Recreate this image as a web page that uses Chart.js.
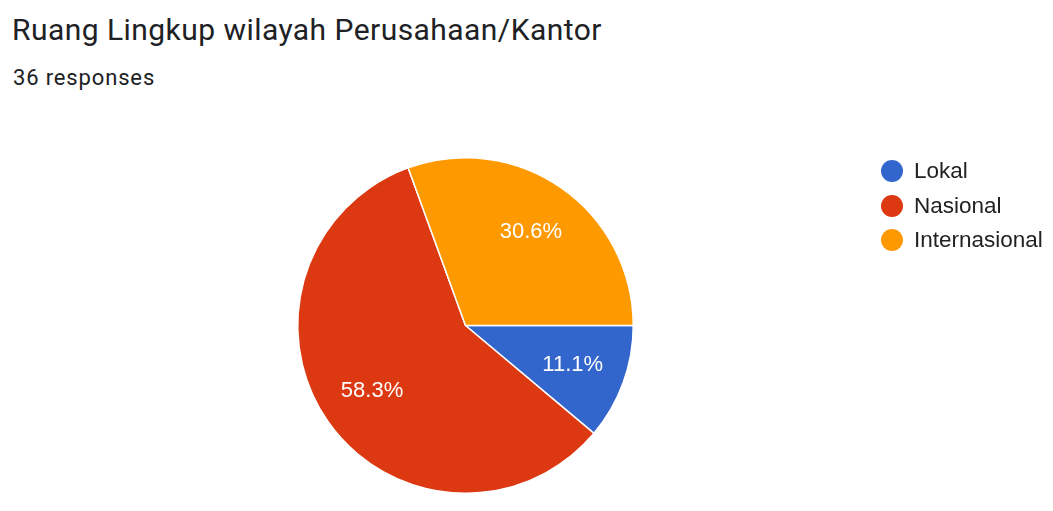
<!DOCTYPE html>
<html>
<head>
<meta charset="utf-8">
<script src="https://cdn.jsdelivr.net/npm/chart.js@4"></script>
<style>
  html, body { margin: 0; padding: 0; background: #fff; }
  body { width: 1053px; height: 511px; position: relative; overflow: hidden; }
  .title { position: absolute; left: 12px; top: 15px; line-height: 1; font-family: Roboto, sans-serif; font-size: 30px; letter-spacing: 0.45px; color: #202124; white-space: nowrap; }
  .sub { position: absolute; left: 13px; top: 67px; line-height: 1; font-family: Roboto, sans-serif; font-size: 22px; letter-spacing: 0.85px; color: #202124; }
  #chart-wrap { position: absolute; left: 0; top: 0; width: 1053px; height: 511px; }
  #legend { position: absolute; left: 881px; top: 154px; font-family: "Liberation Sans", Arial, sans-serif; font-size: 22.5px; color: #222; }
  .item { height: 34.5px; display: flex; align-items: center; }
  .dot { width: 22px; height: 22px; border-radius: 50%; margin-right: 11px; }
</style>
</head>
<body>
<div class="title">Ruang Lingkup wilayah Perusahaan/Kantor</div>
<div class="sub">36 responses</div>
<div id="chart-wrap"><canvas id="pie"></canvas></div>
<div id="legend"></div>
<script>
const labels = ['Lokal', 'Nasional', 'Internasional'];
const counts = [4, 21, 11];
const colors = ['#3366cc', '#dc3912', '#ff9900'];

const total = counts.reduce((a, b) => a + b, 0);

// percentage labels inside each slice (Google Forms style)
const sliceLabels = {
    id: 'sliceLabels',
    afterDatasetsDraw(chart) {
        const ctx = chart.ctx;
        const meta = chart.getDatasetMeta(0);
        ctx.save();
        ctx.fillStyle = '#ffffff';
        ctx.font = '22px "Liberation Sans", Arial, sans-serif';
        ctx.textAlign = 'center';
        ctx.textBaseline = 'middle';
        meta.data.forEach((arc, i) => {
            const p = arc.getProps(['x', 'y', 'startAngle', 'endAngle', 'outerRadius'], true);
            const mid = (p.startAngle + p.endAngle) / 2;
            const r = p.outerRadius * 0.68;
            const pct = (counts[i] / total * 100).toFixed(1) + '%';
            ctx.fillText(pct, p.x + Math.cos(mid) * r, p.y + Math.sin(mid) * r);
        });
        ctx.restore();
    }
};

new Chart(document.getElementById('pie'), {
    type: 'pie',
    data: {
        labels: labels,
        datasets: [{
            data: counts,
            backgroundColor: colors,
            borderColor: '#ffffff',
            borderWidth: 1.5
        }]
    },
    options: {
        responsive: true,
        maintainAspectRatio: false,
        animation: false,
        rotation: 90,
        layout: { padding: { left: 297, right: 419, top: 157, bottom: 17 } },
        plugins: {
            legend: { display: false },
            tooltip: { enabled: false }
        }
    },
    plugins: [sliceLabels]
});

// legend on the right
const legend = document.getElementById('legend');
labels.forEach((name, i) => {
    const row = document.createElement('div');
    row.className = 'item';
    row.innerHTML = `<span class="dot" style="background:${colors[i]}"></span><span>${name}</span>`;
    legend.appendChild(row);
});
</script>
</body>
</html>
